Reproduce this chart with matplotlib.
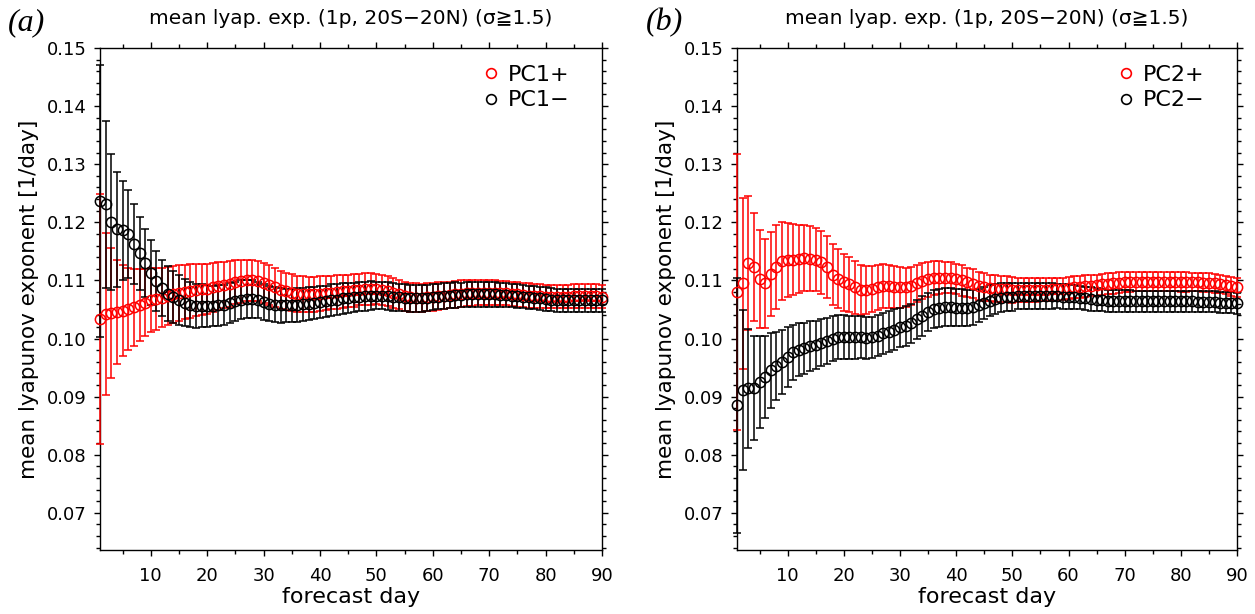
import numpy as np
import matplotlib
matplotlib.use('Agg')
import matplotlib.pyplot as plt
from matplotlib.lines import Line2D
from matplotlib.ticker import MultipleLocator, FixedLocator, FormatStrFormatter

plt.rcParams['font.family'] = ['DejaVu Sans']

days = np.arange(1, 91)

# panel (a): PC1
pc1_pos_mean = [
    0.1033, 0.1042, 0.1044, 0.1046, 0.1048, 0.1051, 0.1054, 0.1058, 0.1062, 0.1066,
    0.1068, 0.1070, 0.1073, 0.1076, 0.1078, 0.1080, 0.1082, 0.1084, 0.1085, 0.1086,
    0.1088, 0.1090, 0.1092, 0.1094, 0.1097, 0.1099, 0.1100, 0.1100, 0.1099, 0.1096,
    0.1092, 0.1088, 0.1084, 0.1081, 0.1079, 0.1077, 0.1076, 0.1076, 0.1076, 0.1077,
    0.1078, 0.1079, 0.1080, 0.1081, 0.1082, 0.1083, 0.1084, 0.1085, 0.1085, 0.1085,
    0.1084, 0.1082, 0.1079, 0.1076, 0.1073, 0.1071, 0.1070, 0.1070, 0.1071, 0.1072,
    0.1073, 0.1074, 0.1075, 0.1076, 0.1077, 0.1078, 0.1078, 0.1079, 0.1079, 0.1079,
    0.1079, 0.1078, 0.1078, 0.1077, 0.1076, 0.1075, 0.1074, 0.1073, 0.1073, 0.1072,
    0.1072, 0.1072, 0.1072, 0.1072, 0.1073, 0.1073, 0.1073, 0.1073, 0.1073, 0.1072]
pc1_pos_err = [
    0.0215, 0.0139, 0.0112, 0.0090, 0.0078, 0.0071, 0.0066, 0.0062, 0.0058, 0.0055,
    0.0053, 0.0051, 0.0050, 0.0049, 0.0048, 0.0047, 0.0046, 0.0045, 0.0044, 0.0043,
    0.0042, 0.0041, 0.0040, 0.0039, 0.0038, 0.0037, 0.0036, 0.0035, 0.0035, 0.0034,
    0.0034, 0.0033, 0.0033, 0.0032, 0.0032, 0.0031, 0.0031, 0.0030, 0.0030, 0.0030,
    0.0029, 0.0029, 0.0029, 0.0028, 0.0028, 0.0028, 0.0027, 0.0027, 0.0027, 0.0026,
    0.0026, 0.0026, 0.0026, 0.0025, 0.0025, 0.0025, 0.0025, 0.0024, 0.0024, 0.0024,
    0.0024, 0.0023, 0.0023, 0.0023, 0.0023, 0.0022, 0.0022, 0.0022, 0.0022, 0.0022,
    0.0022, 0.0021, 0.0021, 0.0021, 0.0021, 0.0021, 0.0021, 0.0020, 0.0020, 0.0020,
    0.0020, 0.0020, 0.0020, 0.0020, 0.0020, 0.0020, 0.0020, 0.0020, 0.0020, 0.0020]
pc1_neg_mean = [
    0.1236, 0.1231, 0.1200, 0.1188, 0.1186, 0.1180, 0.1163, 0.1147, 0.1130, 0.1113,
    0.1099, 0.1087, 0.1077, 0.1072, 0.1067, 0.1062, 0.1058, 0.1056, 0.1056, 0.1056,
    0.1056, 0.1057, 0.1058, 0.1061, 0.1064, 0.1067, 0.1068, 0.1068, 0.1066, 0.1063,
    0.1060, 0.1058, 0.1057, 0.1057, 0.1057, 0.1058, 0.1059, 0.1060, 0.1061, 0.1063,
    0.1064, 0.1066, 0.1067, 0.1069, 0.1070, 0.1071, 0.1072, 0.1073, 0.1074, 0.1074,
    0.1074, 0.1073, 0.1072, 0.1071, 0.1070, 0.1069, 0.1069, 0.1069, 0.1070, 0.1071,
    0.1072, 0.1073, 0.1074, 0.1075, 0.1075, 0.1076, 0.1076, 0.1076, 0.1076, 0.1076,
    0.1076, 0.1075, 0.1075, 0.1074, 0.1073, 0.1072, 0.1071, 0.1070, 0.1069, 0.1068,
    0.1067, 0.1066, 0.1066, 0.1066, 0.1066, 0.1066, 0.1066, 0.1066, 0.1066, 0.1066]
pc1_neg_err = [
    0.0234, 0.0144, 0.0117, 0.0099, 0.0085, 0.0076, 0.0069, 0.0063, 0.0058, 0.0056,
    0.0052, 0.0049, 0.0047, 0.0045, 0.0043, 0.0041, 0.0039, 0.0038, 0.0037, 0.0036,
    0.0035, 0.0035, 0.0034, 0.0034, 0.0033, 0.0033, 0.0032, 0.0032, 0.0031, 0.0031,
    0.0030, 0.0030, 0.0030, 0.0029, 0.0029, 0.0029, 0.0028, 0.0028, 0.0028, 0.0027,
    0.0027, 0.0027, 0.0026, 0.0026, 0.0026, 0.0025, 0.0025, 0.0025, 0.0025, 0.0024,
    0.0024, 0.0024, 0.0024, 0.0023, 0.0023, 0.0023, 0.0023, 0.0023, 0.0022, 0.0022,
    0.0022, 0.0022, 0.0022, 0.0022, 0.0021, 0.0021, 0.0021, 0.0021, 0.0021, 0.0021,
    0.0021, 0.0020, 0.0020, 0.0020, 0.0020, 0.0020, 0.0020, 0.0020, 0.0020, 0.0020,
    0.0020, 0.0020, 0.0020, 0.0020, 0.0020, 0.0020, 0.0020, 0.0020, 0.0020, 0.0020]

# panel (b): PC2
pc2_pos_mean = [
    0.1080, 0.1095, 0.1130, 0.1123, 0.1102, 0.1095, 0.1111, 0.1123, 0.1133, 0.1135,
    0.1136, 0.1137, 0.1139, 0.1137, 0.1136, 0.1131, 0.1123, 0.1110, 0.1103, 0.1097,
    0.1093, 0.1088, 0.1084, 0.1083, 0.1085, 0.1088, 0.1090, 0.1090, 0.1089, 0.1088,
    0.1088, 0.1090, 0.1095, 0.1099, 0.1102, 0.1104, 0.1105, 0.1105, 0.1105, 0.1103,
    0.1100, 0.1097, 0.1094, 0.1091, 0.1089, 0.1087, 0.1086, 0.1085, 0.1085, 0.1084,
    0.1084, 0.1084, 0.1084, 0.1084, 0.1084, 0.1084, 0.1085, 0.1085, 0.1086, 0.1087,
    0.1088, 0.1089, 0.1090, 0.1091, 0.1092, 0.1093, 0.1094, 0.1095, 0.1096, 0.1097,
    0.1097, 0.1098, 0.1098, 0.1098, 0.1098, 0.1098, 0.1098, 0.1098, 0.1098, 0.1097,
    0.1097, 0.1097, 0.1097, 0.1096, 0.1096, 0.1095, 0.1094, 0.1092, 0.1090, 0.1088]
pc2_pos_err = [
    0.0237, 0.0147, 0.0115, 0.0093, 0.0084, 0.0077, 0.0073, 0.0072, 0.0067, 0.0063,
    0.0061, 0.0059, 0.0057, 0.0056, 0.0055, 0.0054, 0.0053, 0.0052, 0.0051, 0.0049,
    0.0047, 0.0045, 0.0043, 0.0041, 0.0040, 0.0039, 0.0038, 0.0037, 0.0036, 0.0035,
    0.0034, 0.0033, 0.0032, 0.0031, 0.0030, 0.0029, 0.0028, 0.0027, 0.0027, 0.0026,
    0.0026, 0.0025, 0.0025, 0.0024, 0.0024, 0.0023, 0.0023, 0.0022, 0.0022, 0.0022,
    0.0021, 0.0021, 0.0021, 0.0021, 0.0020, 0.0020, 0.0020, 0.0020, 0.0019, 0.0019,
    0.0019, 0.0019, 0.0019, 0.0018, 0.0018, 0.0018, 0.0018, 0.0018, 0.0018, 0.0017,
    0.0017, 0.0017, 0.0017, 0.0017, 0.0017, 0.0017, 0.0017, 0.0017, 0.0017, 0.0017,
    0.0017, 0.0016, 0.0016, 0.0016, 0.0016, 0.0016, 0.0016, 0.0016, 0.0016, 0.0016]
pc2_neg_mean = [
    0.0885, 0.0911, 0.0914, 0.0915, 0.0925, 0.0934, 0.0945, 0.0953, 0.0959, 0.0968,
    0.0976, 0.0981, 0.0983, 0.0987, 0.0989, 0.0993, 0.0996, 0.1000, 0.1002, 0.1002,
    0.1002, 0.1002, 0.1002, 0.1001, 0.1002, 0.1005, 0.1009, 0.1012, 0.1015, 0.1019,
    0.1022, 0.1026, 0.1033, 0.1039, 0.1046, 0.1051, 0.1053, 0.1054, 0.1054, 0.1053,
    0.1053, 0.1053, 0.1054, 0.1057, 0.1061, 0.1065, 0.1068, 0.1070, 0.1071, 0.1072,
    0.1073, 0.1073, 0.1073, 0.1073, 0.1073, 0.1073, 0.1073, 0.1073, 0.1072, 0.1072,
    0.1071, 0.1070, 0.1069, 0.1068, 0.1067, 0.1066, 0.1065, 0.1064, 0.1064, 0.1064,
    0.1064, 0.1064, 0.1064, 0.1064, 0.1064, 0.1064, 0.1064, 0.1064, 0.1064, 0.1064,
    0.1064, 0.1064, 0.1063, 0.1063, 0.1063, 0.1063, 0.1062, 0.1062, 0.1062, 0.1061]
pc2_neg_err = [
    0.0220, 0.0138, 0.0102, 0.0089, 0.0079, 0.0071, 0.0064, 0.0059, 0.0055, 0.0051,
    0.0048, 0.0046, 0.0044, 0.0043, 0.0042, 0.0041, 0.0040, 0.0039, 0.0038, 0.0038,
    0.0037, 0.0037, 0.0036, 0.0036, 0.0035, 0.0035, 0.0035, 0.0035, 0.0035, 0.0034,
    0.0034, 0.0034, 0.0034, 0.0034, 0.0033, 0.0033, 0.0033, 0.0033, 0.0033, 0.0032,
    0.0032, 0.0031, 0.0030, 0.0029, 0.0028, 0.0027, 0.0026, 0.0025, 0.0024, 0.0024,
    0.0023, 0.0023, 0.0023, 0.0022, 0.0022, 0.0022, 0.0022, 0.0021, 0.0021, 0.0021,
    0.0021, 0.0020, 0.0020, 0.0020, 0.0020, 0.0019, 0.0019, 0.0019, 0.0019, 0.0019,
    0.0019, 0.0018, 0.0018, 0.0018, 0.0018, 0.0018, 0.0018, 0.0018, 0.0018, 0.0018,
    0.0018, 0.0018, 0.0018, 0.0018, 0.0018, 0.0018, 0.0018, 0.0018, 0.0018, 0.0018]

title = 'mean lyap. exp. (1p, 20S\u221220N) (\u03c3\u22671.5)'
panels = [
    ('(a)', 'PC1', pc1_pos_mean, pc1_pos_err, pc1_neg_mean, pc1_neg_err),
    ('(b)', 'PC2', pc2_pos_mean, pc2_pos_err, pc2_neg_mean, pc2_neg_err),
]

fig = plt.figure(figsize=(12.55, 6.14), dpi=100)
ax_boxes = [(0.0797, 0.400), (0.5873, 0.3984)]

for (left, width), (tag, pc, pm, pe, nm, ne) in zip(ax_boxes, panels):
    ax = fig.add_axes([left, 0.1042, width, 0.8176])
    for mean, err, col in [(pm, pe, 'red'), (nm, ne, 'black')]:
        ax.errorbar(days, mean, yerr=err, fmt='o', ms=7.4, mfc='none', mec=col,
                    mew=1.1, ecolor=col, elinewidth=1.1, capsize=3.0, capthick=1.1,
                    clip_on=False, zorder=3)
    ax.set_xlim(1, 90)
    ax.set_ylim(0.0636, 0.15)
    ax.xaxis.set_major_locator(FixedLocator(np.arange(10, 91, 10)))
    ax.xaxis.set_minor_locator(FixedLocator(np.arange(5, 90, 10)))
    ax.yaxis.set_major_locator(FixedLocator(np.arange(0.07, 0.1501, 0.01)))
    ax.yaxis.set_minor_locator(MultipleLocator(0.002))
    ax.yaxis.set_major_formatter(FormatStrFormatter('%.2f'))
    ax.tick_params(which='both', direction='out', top=True, right=True,
                   labelsize=13, width=1.0, colors='black')
    ax.tick_params(which='major', length=4.5)
    ax.tick_params(which='minor', length=2.6)
    ax.tick_params(axis='x', which='both', pad=7.5)
    ax.tick_params(axis='y', which='both', pad=5)
    for s in ax.spines.values():
        s.set_linewidth(1.0)
    ax.set_xlabel('forecast day', fontsize=16, labelpad=2)
    ax.set_ylabel('mean lyapunov exponent [1/day]', fontsize=15.5, labelpad=6)
    ax.set_title(title, fontsize=14.5, pad=17)
    ax.text(-0.183, 1.05, tag, transform=ax.transAxes, fontsize=23,
            family='Liberation Serif', style='italic', va='center', ha='left')
    handles = [Line2D([], [], ls='none', marker='o', ms=7.0, mfc='none',
                      mec='red', mew=1.2),
               Line2D([], [], ls='none', marker='o', ms=7.0, mfc='none',
                      mec='black', mew=1.2)]
    ax.legend(handles, [pc + '+', pc + '\u2212'], loc='upper right',
              bbox_to_anchor=(0.935, 0.967), frameon=False, fontsize=16,
              handletextpad=0.25, borderpad=0, borderaxespad=0,
              labelspacing=0.26, handlelength=1.0)

fig.savefig('out.png', dpi=100)
